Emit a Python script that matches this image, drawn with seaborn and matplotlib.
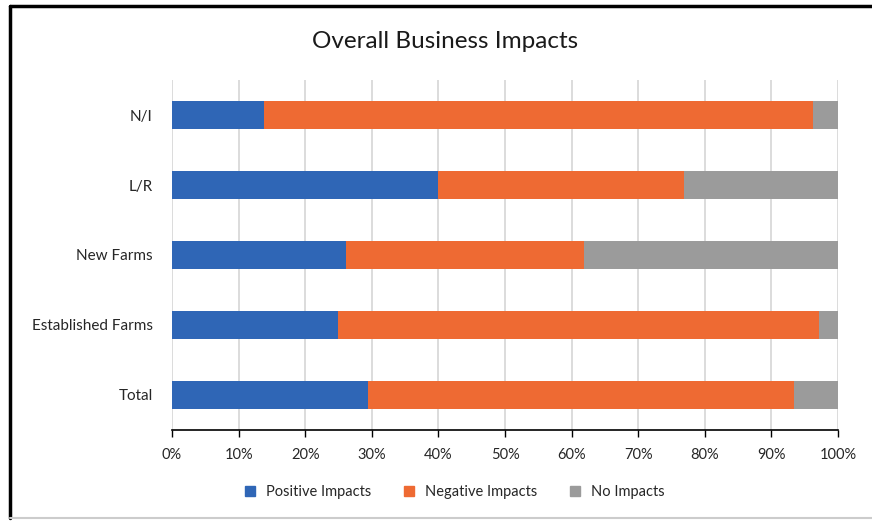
import matplotlib
matplotlib.use("Agg")
import matplotlib.pyplot as plt
import seaborn as sns
import pandas as pd
from matplotlib.lines import Line2D

categories = ["N/I", "L/R", "New Farms", "Established Farms", "Total"]
positive = [13.8, 39.9, 26.1, 24.9, 29.4]
negative = [82.4, 37.0, 35.8, 72.2, 64.0]
no_impact = [3.8, 23.1, 38.1, 2.9, 6.6]
series_names = ["Positive Impacts", "Negative Impacts", "No Impacts"]
x_ticks = [0, 10, 20, 30, 40, 50, 60, 70, 80, 90, 100]

colors = ["#2F66B6", "#EE6A33", "#9B9B9B"]

sns.set_theme(style="white")
plt.rcParams["font.family"] = ["Lato", "DejaVu Sans"]

df = pd.DataFrame({"cat": categories, "pos": positive, "neg": negative, "no": no_impact})
df["c1"] = df["pos"]
df["c2"] = df["pos"] + df["neg"]
df["c3"] = df["pos"] + df["neg"] + df["no"]

fig = plt.figure(figsize=(8.72, 5.21), dpi=100)
ax = fig.add_axes([172 / 872, 1 - 430 / 521, (838 - 172) / 872, (430 - 80) / 521])

for col, c in zip(["c3", "c2", "c1"], colors[::-1]):
    sns.barplot(data=df, x=col, y="cat", order=categories, color=c,
                width=0.4, orient="h", ax=ax, saturation=1, zorder=3,
                linewidth=0)

ax.set_xlim(0, 100)
ax.set_ylim(4.5, -0.5)
ax.set_xticks(x_ticks)
ax.set_xticklabels([f"{t}%" for t in x_ticks], fontsize=10.5, color="#262626")
ax.tick_params(axis="y", labelsize=11, colors="#262626", length=0, pad=14)
ax.tick_params(axis="x", length=5, width=1, color="black", direction="out", pad=8, bottom=True)
ax.set_xlabel("")
ax.set_ylabel("")
ax.grid(axis="x", color="#D9D9D9", linewidth=1.3, zorder=0)
ax.set_axisbelow(True)
for s in ["top", "right", "left"]:
    ax.spines[s].set_visible(False)
ax.spines["bottom"].set_color("black")
ax.spines["bottom"].set_linewidth(1.2)

fig.text(445 / 872, 1 - 42 / 521, "Overall Business Impacts", ha="center", va="center",
         fontsize=17.5, color="#1a1a1a")

handles = [Line2D([0], [0], marker="s", linestyle="", markersize=7,
                  markerfacecolor=c, markeredgecolor=c) for c in colors]
fig.legend(handles, series_names, loc="center", bbox_to_anchor=(450 / 872, 1 - 492 / 521),
           ncol=3, frameon=False, fontsize=10.5, handletextpad=0.1, columnspacing=1.6,
           labelcolor="#262626")

# border lines
fig.add_artist(Line2D([10 / 872, 10 / 872], [0.006, 1 - 6 / 521], color="black", linewidth=2.5,
                      transform=fig.transFigure))
fig.add_artist(Line2D([10 / 872, 1.0], [1 - 6 / 521, 1 - 6 / 521], color="black", linewidth=2.5,
                      transform=fig.transFigure))
fig.add_artist(Line2D([10 / 872, 1.0], [1 - 518 / 521, 1 - 518 / 521], color="#CCCCCC", linewidth=1.5,
                      transform=fig.transFigure))

fig.savefig("out.png", dpi=100)
